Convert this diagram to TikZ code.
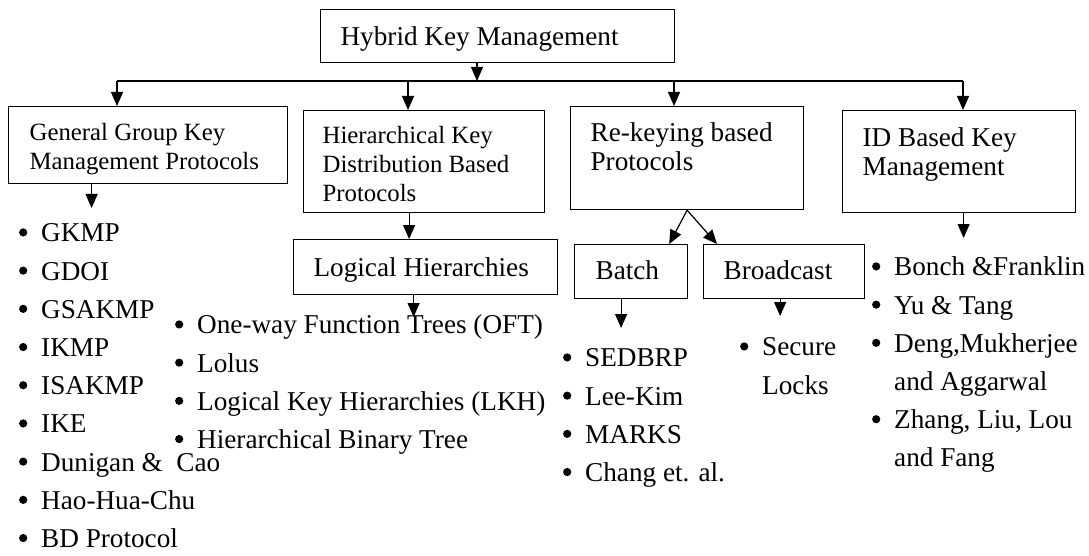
\documentclass[tikz,border=0pt]{standalone}
\usepackage{fontspec}
\setmainfont{Liberation Serif}
\usetikzlibrary{arrows.meta}
\newcommand{\bl}{\makebox[36pt]{\tikz[baseline=-9.5pt]\fill (0,0) circle (4.1pt);}}
\newcommand{\nb}{\makebox[36pt]{}}
\tikzset{
  box/.style={draw, line width=1.2pt, anchor=north west, inner xsep=20pt, inner ysep=0pt,
    align=flush left, font=\fontsize{27.2}{29}\selectfont},
  small/.style={font=\fontsize{24.8}{28.8}\selectfont},
  lst/.style={anchor=north west, inner sep=0pt, font=\fontsize{27.2}{38.2}\selectfont},
  arr/.style={line width=1.2pt, -{Triangle[width=12pt,length=14pt]}}
}
\begin{document}
\begin{tikzpicture}[x=1pt, y=-1pt]
\useasboundingbox (0,0) rectangle (1089,556);
% boxes
\node[box, text width=314pt, text height=36pt, text depth=17pt] (hkm) at (320,9) {Hybrid Key Management};
\node[box, small, inner xsep=21pt, text width=237pt, text height=34pt, text depth=43pt] (gbox) at (8,106)
  {General Group Key\\Management Protocols};
\node[box, small, inner xsep=19pt, text width=203pt, text height=33pt, text depth=69pt] (hbox) at (303,110)
  {Hierarchical Key\\Distribution Based\\Protocols};
\node[box, text width=193pt, text height=35pt, text depth=68pt] (rbox) at (570,106)
  {Re-keying based\\Protocols};
\node[box, text width=193pt, text height=36pt, text depth=66pt] (ibox) at (842,110)
  {ID Based Key\\Management};
\node[box, text width=224pt, text height=37pt, text depth=18pt] (lbox) at (293,239) {Logical Hierarchies};
\node[box, inner xsep=21pt, text width=71pt, text height=35pt, text depth=19pt] (batch) at (574,244) {Batch};
\node[box, text width=121pt, text height=35pt, text depth=19pt] (bcast) at (703,244) {Broadcast};
% lists
\node[lst] (glist) at (5,215) {\begin{tabular}{@{}l@{}}
  \bl GKMP\\ \bl GDOI\\ \bl GSAKMP\\ \bl IKMP\\ \bl ISAKMP\\ \bl IKE\\
  \bl Dunigan \& \ Cao\\ \bl Hao-Hua-Chu\\ \bl BD Protocol\\[-6pt]\end{tabular}};
\node[lst] (olist) at (161,307) {\begin{tabular}{@{}l@{}}
  \bl One-way Function Trees (OFT)\\ \bl Lolus\\ \bl Logical Key Hierarchies (LKH)\\
  \bl Hierarchical Binary Tree\\[-6pt]\end{tabular}};
\node[lst] (blist) at (549,340) {\begin{tabular}{@{}l@{}}
  \bl SEDBRP\\ \bl Lee-Kim\\ \bl MARKS\\ \bl Chang et. al.\end{tabular}};
\node[lst] (slist) at (726,329) {\begin{tabular}{@{}l@{}}
  \bl Secure\\ \nb Locks\end{tabular}};
\node[lst] (ilist) at (858,249) {\begin{tabular}{@{}l@{}}
  \bl Bonch \&Franklin\\ \bl Yu \& Tang\\ \bl Deng,Mukherjee\\ \nb and Aggarwal\\
  \bl Zhang, Liu, Lou\\ \nb and Fang\end{tabular}};
% connectors
\coordinate (t) at (477,81);
\coordinate (b1) at (117,81);
\coordinate (b2) at (408,81);
\coordinate (b3) at (674,81);
\coordinate (b4) at (963,81);
\draw[arr] (t |- hkm.south) -- (t);
\draw[line width=1.2pt] (b1) -- (b4);
\draw[arr] (b1) -- (b1 |- gbox.north);
\draw[arr] (b2) -- (b2 |- hbox.north);
\draw[arr] (b3) -- (b3 |- rbox.north);
\draw[arr] (b4) -- (b4 |- ibox.north);
\draw[arr, shorten >=7pt] ([xshift=-56.5pt]gbox.south) -- ([xshift=-56.5pt]gbox.south |- glist.north);
\draw[arr] ([xshift=-15pt]hbox.south) -- ([xshift=-15pt]hbox.south |- lbox.north);
\draw[arr, shorten >=-10pt] ([xshift=-12pt]lbox.south) -- ([xshift=-12pt]lbox.south |- olist.north);
\draw[arr] (rbox.south) -- ([xshift=-19pt]batch.north east);
\draw[arr] (rbox.south) -- ([xshift=14pt]bcast.north west);
\draw[arr, shorten >=12pt] ([xshift=-10pt]batch.south) -- ([xshift=-10pt]batch.south |- blist.north);
\draw[arr, shorten >=13pt] ([xshift=-4pt]bcast.south) -- ([xshift=-4pt]bcast.south |- slist.north);
\draw[arr, shorten >=11pt] ([xshift=4.5pt]ibox.south) -- ([xshift=4.5pt]ibox.south |- ilist.north);
\end{tikzpicture}
\end{document}
